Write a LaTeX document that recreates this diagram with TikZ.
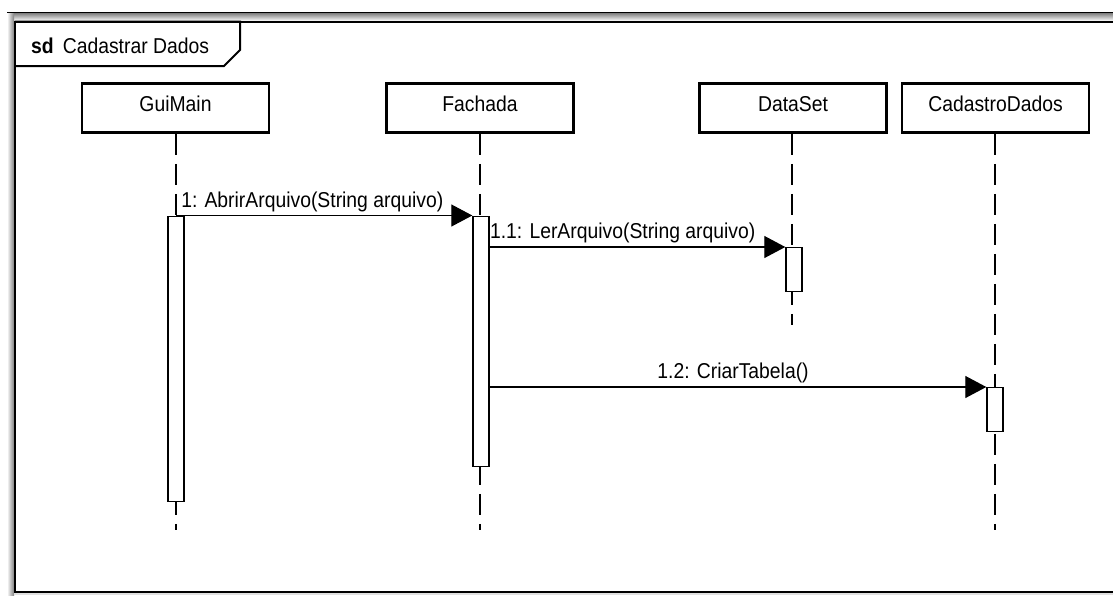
\documentclass[tikz,border=0pt]{standalone}
\usepackage{fontspec}
\setmainfont{Liberation Sans}[FakeStretch=0.9]
\usetikzlibrary{arrows.meta}

\begin{document}
\begin{tikzpicture}[x=1pt,y=-1pt,
  every node/.style={font=\fontsize{21.5}{25}\selectfont},
  obj/.style={draw, line width=2.8pt, minimum width=187pt, minimum height=49pt,
    text height=15pt, text depth=8pt},
  act/.style={draw, fill=white, line width=1.4pt, minimum width=16pt, inner sep=0pt, anchor=north},
  life/.style={line width=1.2pt, dash pattern=on 21pt off 9pt},
  msg/.style={line width=1.2pt, -{Triangle[length=21pt,width=22pt]}},
  lbl/.style={above, inner sep=3pt}]
\def\cBand{black!50}
\def\yEnd{530}
\useasboundingbox (0,0) rectangle (1113,595);
\fill[white] (0,0) rectangle (1113,595);

% window border
\shade[top color=\cBand, bottom color=white] (7,13) rectangle (1113,21);
\shade[left color=white, right color=\cBand] (7,13) rectangle (14,595);
\fill[black!12] (14,593) rectangle (1113,595);
\draw[line width=1.5pt] (7,12.5) -- (1113,12.5);
\draw[line width=2pt] (1113,21.5) -- (14.5,21.5) -- (14.5,592) -- (1113,592);

% frame tab
\draw[line width=2pt] (14.5,21.5) -- (240,21.5) -- (240,50) -- (224,66) -- (14.5,66);
\node[anchor=base west, inner sep=0pt] (title) at (31,53) {\textbf{sd}\hspace{9pt}Cadastrar Dados};

% objects
\node[obj] (gui) at (175.5,108) {GuiMain};
\node[obj] (fach) at (480,108) {Fachada};
\node[obj] (data) at (793,108) {DataSet};
\node[obj] (cad) at (995.5,108) {CadastroDados};

% lifelines
\coordinate (guiEnd) at (176,\yEnd);
\coordinate (fachEnd) at (480,\yEnd);
\coordinate (dataEnd) at (792,325);
\coordinate (cadEnd) at (995,\yEnd);
\draw[life] (gui.south -| guiEnd) -- (guiEnd);
\draw[life] (fach.south -| fachEnd) -- (fachEnd);
\draw[life] (data.south -| dataEnd) -- (dataEnd);
\draw[life] (cad.south -| cadEnd) -- (cadEnd);

% activations
\node[act, minimum height=285pt] (actGui) at (176,215.5) {};
\node[act, minimum height=250pt] (actFach) at (481,215.5) {};
\node[act, minimum height=44pt] (actData) at (794,247) {};
\node[act, minimum height=44pt] (actCad) at (995,387) {};

% messages
\draw[msg] (actGui.north) -- node[lbl, pos=.46] {1: AbrirArquivo(String arquivo)} (actFach.north west);
\draw[msg] (actFach.east |- actData.north) -- node[lbl, pos=.45] {1.1: LerArquivo(String arquivo)} (actData.north west);
\draw[msg] (actFach.east |- actCad.north) -- node[lbl, pos=.49] {1.2: CriarTabela()} (actCad.north west);
\end{tikzpicture}
\end{document}
